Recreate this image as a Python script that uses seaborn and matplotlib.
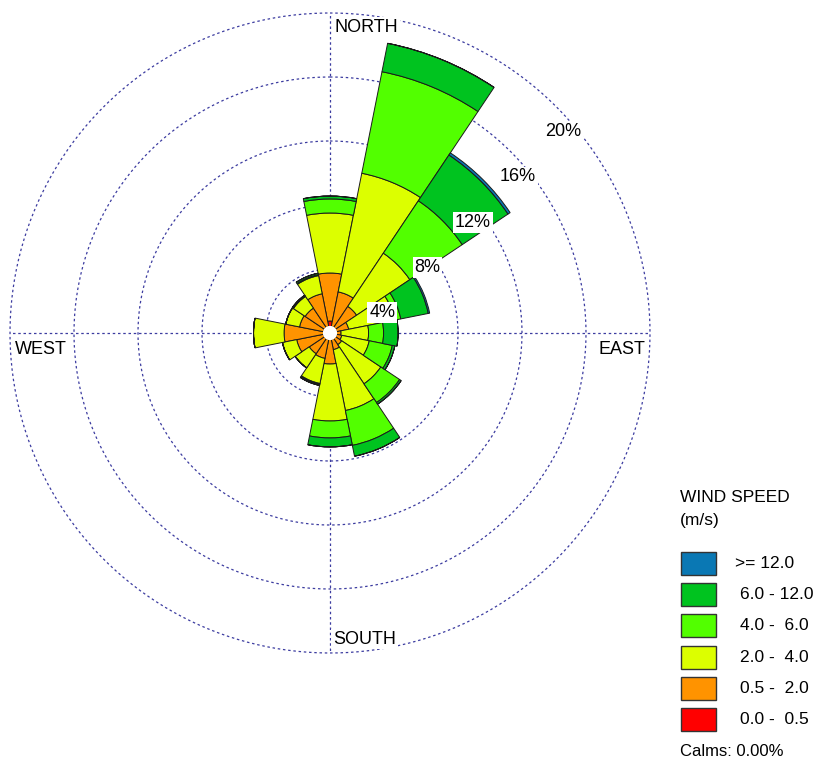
import numpy as np
import matplotlib
matplotlib.use("Agg")
import matplotlib.pyplot as plt
from matplotlib.patches import Rectangle
import seaborn as sns

# wind rose data (% of time), 16 directions clockwise from north
directions = ["N", "NNE", "NE", "ENE", "E", "ESE", "SE", "SSE",
              "S", "SSW", "SW", "WSW", "W", "WNW", "NW", "NNW"]
speed_labels = ["0.0 -  0.5", "0.5 -  2.0", "2.0 -  4.0", "4.0 -  6.0", "6.0 - 12.0", ">= 12.0"]
freq_00_05 = [0.35, 0, 0, 0, 0, 0, 0, 0, 0, 0, 0, 0, 0, 0, 0, 0]
freq_05_2 = [3.00, 2.22, 1.60, 0.79, 0.29, 0.35, 0.48, 0.66, 1.54, 1.22, 1.16, 1.72, 2.47, 1.54, 1.47, 2.10]
freq_2_4 = [3.75, 7.56, 4.00, 2.94, 1.72, 1.75, 2.94, 3.88, 3.56, 1.60, 1.06, 0.91, 1.91, 0.88, 0.88, 1.16]
freq_4_6 = [0.88, 6.47, 3.94, 0.38, 0.94, 1.47, 1.41, 2.22, 1.06, 0.06, 0, 0, 0, 0, 0.03, 0.06]
freq_6_12 = [0.18, 1.81, 3.44, 1.75, 0.91, 0.16, 0.12, 0.69, 0.56, 0.06, 0, 0, 0, 0, 0.06, 0.09]
freq_12 = [0, 0, 0.16, 0.09, 0, 0, 0, 0, 0, 0, 0, 0, 0, 0, 0, 0]
ring_values = [4, 8, 12, 16, 20]
calms = 0.00

colors = ["#ff0000", "#ff9300", "#dcff00", "#52ff00", "#00c31f", "#0a78b4"]

sns.set_theme(style="white")
plt.rcParams["font.family"] = ["Liberation Sans", "DejaVu Sans"]
plt.rcParams["text.color"] = "black"
palette = sns.color_palette(colors)

W, H = 816, 762
fig = plt.figure(figsize=(W / 100, H / 100), dpi=100)
fig.patch.set_facecolor("white")

cx, cy, R = 330, 333, 320
ax = fig.add_axes([(cx - R) / W, (H - cy - R) / H, 2 * R / W, 2 * R / H], projection="polar")
ax.set_theta_zero_location("N")
ax.set_theta_direction(-1)
ax.set_ylim(0, 20)
ax.set_axis_off()

theta = np.deg2rad(np.arange(16) * 22.5)
width = np.deg2rad(22.5)
hole = 0.4
bottom = np.full(16, hole)
for vals, col in zip([freq_00_05, freq_05_2, freq_2_4, freq_4_6, freq_6_12, freq_12], palette):
    v = np.array(vals)
    ax.bar(theta, v, width=width, bottom=bottom, color=col,
           edgecolor="#1a1a1a", linewidth=0.7, zorder=3)
    bottom = bottom + v

# grid circles and axes lines
grid_col = "#3c3ca0"
dash = (0, (2, 2.2))
t = np.linspace(0, 2 * np.pi, 400)
for rv in ring_values:
    ax.plot(t, np.full_like(t, rv), color=grid_col, lw=0.9, ls=dash, zorder=1, clip_on=False)
for ang in [0, 90, 180, 270]:
    a = np.deg2rad(ang)
    ax.plot([a, a], [0, 20], color=grid_col, lw=0.9, ls=dash, zorder=1, clip_on=False)

# white hole in the middle
ax.fill(t, np.full_like(t, hole), color="white", zorder=4)

# ring labels along the NE diagonal
for rv in ring_values:
    ax.annotate(f"{rv}%", xy=(np.deg2rad(45), rv), xytext=(7, -25), textcoords="offset pixels",
                ha="center", va="center", fontsize=13, zorder=5,
                bbox=dict(boxstyle="square,pad=0.1", fc="white", ec="none"))

# compass labels
lab = dict(fontsize=13, zorder=5, bbox=dict(boxstyle="square,pad=0.1", fc="white", ec="none"))
ax.annotate("NORTH", xy=(0, 20), xytext=(5, -14), textcoords="offset pixels", ha="left", va="center", **lab)
ax.annotate("SOUTH", xy=(np.pi, 20), xytext=(3, 14), textcoords="offset pixels", ha="left", va="center", **lab)
ax.annotate("WEST", xy=(1.5 * np.pi, 20), xytext=(5, -16), textcoords="offset pixels", ha="left", va="center", **lab)
ax.annotate("EAST", xy=(0.5 * np.pi, 20), xytext=(-5, -16), textcoords="offset pixels", ha="right", va="center", **lab)


def fx(x):
    return x / W


def fy(y):
    return 1 - y / H


# legend
fig.text(fx(680), fy(497), "WIND SPEED", fontsize=12.5, va="center", ha="left")
fig.text(fx(680), fy(521), "(m/s)", fontsize=12.5, va="center", ha="left")
box_tops = [552, 583, 614, 646, 677, 708]
for i, top in enumerate(box_tops):
    k = 5 - i
    fig.patches.append(Rectangle((fx(681), fy(top + 23)), 35 / W, 23 / H, transform=fig.transFigure,
                                 facecolor=palette[k], edgecolor="#333333", lw=1))
    xt = 735 if k == 5 else 740
    fig.text(fx(xt), fy(top + 11.5), speed_labels[k], fontsize=12.5, va="center", ha="left")
fig.text(fx(680), fy(752), f"Calms: {calms:.2f}%", fontsize=12, va="center", ha="left")

fig.savefig("out.png", dpi=100, facecolor="white")
